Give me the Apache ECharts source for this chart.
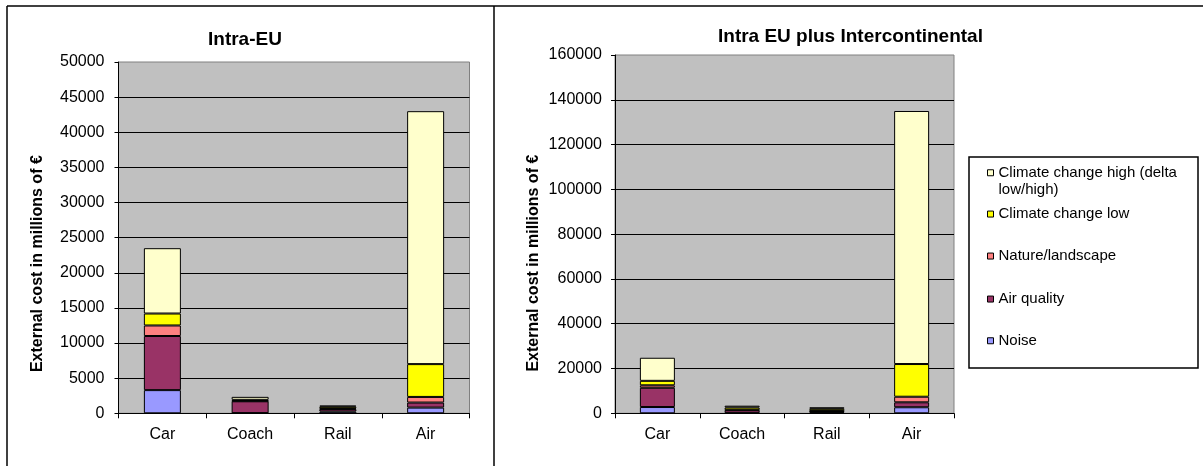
<!DOCTYPE html>
<html>
<head>
<meta charset="utf-8">
<script src="https://cdn.jsdelivr.net/npm/echarts@6/dist/echarts.min.js"></script>
<style>
html,body{margin:0;padding:0;background:#fff;}
#chart{width:1203px;height:466px;}
</style>
</head>
<body>
<div id="chart"></div>
<script>
// ---- data ----
const categories = ['Car', 'Coach', 'Rail', 'Air'];
const seriesNames = ['Noise', 'Air quality', 'Nature/landscape', 'Climate change low', 'Climate change high (delta low/high)'];
const seriesColors = ['#9999FF', '#993366', '#FF8080', '#FFFF00', '#FFFFCC'];

// Intra-EU (millions of €)
const euNoise       = [3300,   30, 250,   810];
const euAirQuality  = [7700, 1680, 350,   720];
const euNature      = [1500,   60, 100,   800];
const euClimateLow  = [1700,  150, 250,  4670];
const euClimateHigh = [9300,  420, 150, 36000];

// Intra EU plus Intercontinental (millions of €)
const icNoise       = [2800,  200,  500,   2700];
const icAirQuality  = [8600, 1200,  300,   2200];
const icNature      = [1100,  200,  200,   2500];
const icClimateLow  = [2000, 1000, 1000,  14600];
const icClimateHigh = [10300, 800,  700, 113000];

const euAxisMax = 50000, euAxisStep = 5000;
const icAxisMax = 160000, icAxisStep = 20000;

const titles = ['Intra-EU', 'Intra EU plus Intercontinental'];
const yAxisName = 'External cost in millions of €';

// ---- chart ----
const FONT = 'Liberation Sans, Arial, sans-serif';
const euData = [euNoise, euAirQuality, euNature, euClimateLow, euClimateHigh];
const icData = [icNoise, icAirQuality, icNature, icClimateLow, icClimateHigh];

function makeSeries(dataSets, idx, stack) {
  return dataSets.map((d, i) => ({
    name: seriesNames[i],
    type: 'bar',
    stack: stack,
    xAxisIndex: idx,
    yAxisIndex: idx,
    barWidth: idx === 0 ? 37 : 35,
    data: d,
    itemStyle: { color: seriesColors[i], borderColor: '#000', borderWidth: 1 },
    emphasis: { disabled: true }
  }));
}

function xAxisCfg(idx) {
  return {
    type: 'category', gridIndex: idx, data: categories,
    axisLine: { lineStyle: { color: '#000', width: 1 } },
    axisTick: { show: true, length: 5, lineStyle: { color: '#000' } },
    axisLabel: { color: '#000', fontSize: 16, fontFamily: FONT, margin: 13 },
    splitLine: { show: false }
  };
}
function yAxisCfg(idx, max, step, margin, shift, gap) {
  return {
    type: 'value', gridIndex: idx, min: 0, max: max, interval: step,
    axisLine: { show: true, lineStyle: { color: '#000', width: 1 } },
    axisTick: { show: true, length: 4, lineStyle: { color: '#000' } },
    axisLabel: { color: '#000', fontSize: 16, fontFamily: FONT, margin: margin, formatter: function (v) { return String(v); } },
    splitLine: { show: true, showMaxLine: false, lineStyle: { color: '#000', width: 1 } },
    name: yAxisName, nameLocation: 'middle', nameGap: gap,
    nameTextStyle: { color: '#000', fontSize: 16, fontWeight: 'bold', fontFamily: FONT, padding: [0, shift, 0, 0] }
  };
}

const legendTops = [146.5, 205.3, 247.3, 290.3, 332];
const legendOrder = [4, 3, 2, 1, 0];
const legends = legendOrder.map((si, k) => ({
  orient: 'vertical', left: 987, top: legendTops[k], padding: 0,
  itemWidth: 6, itemHeight: 6, icon: 'rect',
  data: [seriesNames[si]],
  formatter: si === 4 ? function () { return '\nClimate change high (delta\nlow/high)'; } : undefined,
  itemStyle: { borderColor: '#000', borderWidth: 1 },
  textStyle: { color: '#000', fontSize: 15, fontFamily: FONT, lineHeight: 17.5 }
}));

const option = {
  animation: false,
  backgroundColor: '#fff',
  title: [
    { text: titles[0], left: 208, top: 30, padding: 0, textStyle: { color: '#000', fontSize: 19, fontWeight: 'bold', fontFamily: FONT } },
    { text: titles[1], left: 718, top: 27, padding: 0, textStyle: { color: '#000', fontSize: 19, fontWeight: 'bold', fontFamily: FONT } }
  ],
  legend: legends,
  grid: [
    { left: 118.5, top: 62, width: 351, height: 351.3, show: true, backgroundColor: '#C0C0C0', borderColor: '#808080', borderWidth: 1 },
    { left: 615, top: 55, width: 339, height: 358.3, show: true, backgroundColor: '#C0C0C0', borderColor: '#808080', borderWidth: 1 }
  ],
  xAxis: [xAxisCfg(0), xAxisCfg(1)],
  yAxis: [yAxisCfg(0, euAxisMax, euAxisStep, 14, 52, 72.5), yAxisCfg(1, icAxisMax, icAxisStep, 13, 58, 73.5)],
  series: makeSeries(euData, 0, 'eu').concat(makeSeries(icData, 1, 'ic')),
  graphic: [
    { type: 'line', shape: { x1: 7, y1: 6, x2: 1203, y2: 6 }, style: { stroke: '#000', lineWidth: 1.5 } },
    { type: 'line', shape: { x1: 7, y1: 6, x2: 7, y2: 466 }, style: { stroke: '#000', lineWidth: 1.5 } },
    { type: 'line', shape: { x1: 494, y1: 6, x2: 494, y2: 466 }, style: { stroke: '#000', lineWidth: 1.5 } },
    { type: 'rect', shape: { x: 969, y: 157, width: 229, height: 211 }, style: { fill: 'none', stroke: '#000', lineWidth: 1.5 } }
  ]
};

const chart = echarts.init(document.getElementById('chart'), null, { renderer: 'canvas' });
chart.setOption(option);
</script>
</body>
</html>
